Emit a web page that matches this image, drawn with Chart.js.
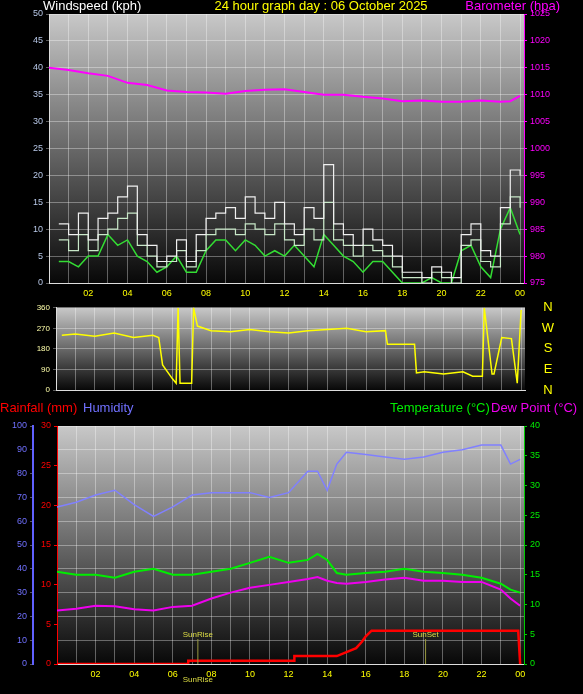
<!DOCTYPE html>
<html>
<head>
<script src="https://cdn.jsdelivr.net/npm/chart.js@4"></script>
<style>
  body { margin: 0; background: #000; width: 583px; height: 694px; position: relative; overflow: hidden; }
  canvas { position: absolute; left: 0; }
</style>
</head>
<body>
<canvas id="wind" style="top:0px" width="583" height="300"></canvas>
<canvas id="dir" style="top:300px" width="583" height="100"></canvas>
<canvas id="temp" style="top:400px" width="583" height="294"></canvas>
<script>
// half-hour steps for wind
const windHours = [];
for (let h = 0.5; h <= 24; h += 0.5) windHours.push(h);
const windGust = [11,9,13,8,12,13,16,18,9,7,4,5,8,4,9,12,13,14,12,16,13,12,15,11,9,14,12,22,11,9,7,10,8,7,5,2,2,1,3,2,1,9,11,6,5,14,21,20];
const windSpeed = [8,6,9,6,9,10,12,13,7,5,3,4,6,3,6,9,10,10,9,11,10,9,11,8,7,10,8,15,8,7,5,7,6,5,3,1,1,0,2,1,0,7,8,4,3,11,16,14];
const windAvg = [4,4,3,5,5,9,7,8,5,4,2,3,5,2,2,6,8,8,6,8,7,5,6,5,7,5,3,9,7,5,4,2,4,4,2,0,0,0,1,0,0,6,7,3,1,10,14,9];

const baroHours = [0,1,2,3,4,5,6,7,8,9,10,11,12,13,14,15,16,17,18,19,20,21,22,23,23.5,24];
const baro = [1015,1014.6,1014,1013.5,1012.2,1011.8,1010.8,1010.5,1010.4,1010.2,1010.7,1010.9,1011,1010.5,1010,1010,1009.6,1009.3,1008.8,1008.9,1008.7,1008.7,1008.9,1008.7,1008.8,1009.8];

const dirHours = [0.3,1,2,3,4,5,5.3,5.5,6,6.2,6.3,6.4,7,7.1,7.3,8,9,10,11,12,13,14,15,16,17,17.1,18,18.5,18.6,19,20,21,21.5,22,22.1,22.5,22.6,23,23.5,23.8,24];
const dirVals = [240,245,235,250,230,240,230,110,50,30,360,30,30,360,280,260,255,265,255,250,260,265,270,255,260,200,200,200,75,80,70,80,60,60,360,70,70,230,225,30,350];

const thHours = [0,1,2,3,4,5,6,7,8,9,10,11,12,13,13.5,14,14.5,15,16,17,18,19,20,21,22,23,23.5,24];
const humidity = [66,68,71,73,67,62,66,71,72,72,72,70,72,81,81,73,84,89,88,87,86,87,89,90,92,92,84,86];
const temperature = [15.5,15,15,14.5,15.5,16,15,15,15.5,16,17,18,17,17.5,18.5,17.5,15.3,15,15.3,15.5,16,15.5,15.3,15,14.5,13.5,12.5,12];
const dewPoint = [9,9.3,9.8,9.7,9.2,9,9.6,9.8,11,12,12.8,13.3,13.8,14.3,14.6,14,13.6,13.5,13.8,14.2,14.5,14,14,13.8,13.8,12.5,11,9.8];

const rainHours = [0,6.8,6.8,12.3,12.3,14.5,15,15.5,15.8,16,16.3,23.9,24];
const rain = [0,0,0.4,0.4,1,1,1.5,2,2.8,3.5,4.2,4.2,0];

const sunRise = 7.3, sunSet = 19.1;

const pts = (xs, ys) => xs.map((x, i) => ({ x, y: ys[i] }));
const gridCol = 'rgba(255,255,255,0.35)';
const tickFont = { size: 9, family: 'Liberation Sans' };

const bgPlugin = {
  id: 'bg',
  beforeDraw(chart) {
    const { ctx, chartArea: a } = chart;
    const g = ctx.createLinearGradient(0, a.top, 0, a.bottom);
    g.addColorStop(0, '#c8c8c8');
    g.addColorStop(1, '#080808');
    ctx.fillStyle = g;
    ctx.fillRect(a.left, a.top, a.right - a.left, a.bottom - a.top);
  }
};

function xScale(showLabels, height) {
  return {
    type: 'linear', min: 0, max: 24.2,
    afterFit: s => { s.height = height; },
    afterBuildTicks: s => {
      s.ticks = [];
      for (let h = 0; h <= 24; h++) s.ticks.push({ value: h });
    },
    grid: { color: gridCol, drawTicks: false },
    border: { color: '#ddd' },
    ticks: {
      autoSkip: false, maxRotation: 0, color: '#ffff00', padding: 5,
      font: tickFont,
      display: showLabels,
      callback: v => (v % 2 === 0 && v > 0) ? String(v % 24).padStart(2, '0') : ''
    }
  };
}

function textPlugin(items) {
  return {
    id: 'texts',
    afterDraw(chart) {
      const ctx = chart.ctx;
      ctx.save();
      ctx.textBaseline = 'top';
      items.forEach(t => {
        ctx.font = '13px "Liberation Sans"';
        ctx.fillStyle = t.color;
        ctx.textAlign = t.align || 'left';
        ctx.fillText(t.text, t.x, t.y);
      });
      ctx.restore();
    }
  };
}

const common = {
  responsive: false, animation: false,
  plugins: { legend: { display: false }, tooltip: { enabled: false } },
  elements: { point: { radius: 0 }, line: { borderWidth: 1.5, tension: 0 } }
};

new Chart(document.getElementById('wind'), {
  type: 'line',
  data: {
    datasets: [
      { data: pts(windHours, windGust), borderColor: '#f0f0f0', borderWidth: 1.2, stepped: true, yAxisID: 'y' },
      { data: pts(windHours, windSpeed), borderColor: '#c8e8c8', borderWidth: 1.2, stepped: true, yAxisID: 'y' },
      { data: pts(windHours, windAvg), borderColor: '#33dd33', yAxisID: 'y' },
      { data: pts(baroHours, baro), borderColor: '#ff00ff', borderWidth: 2, yAxisID: 'baro' }
    ]
  },
  options: {
    ...common,
    layout: { padding: { top: 14 } },
    scales: {
      x: xScale(true, 17),
      y: {
        position: 'left', min: 0, max: 50,
        afterFit: s => { s.width = 49; },
        grid: { color: gridCol, drawTicks: true, tickLength: 3 },
        border: { color: '#ddd' },
        ticks: { stepSize: 5, color: '#b8c8e8', font: tickFont }
      },
      baro: {
        position: 'right', min: 975, max: 1025,
        afterFit: s => { s.width = 59; },
        grid: { drawOnChartArea: false, color: '#ff00ff', tickLength: 3 },
        border: { color: '#ff00ff' },
        ticks: { stepSize: 5, color: '#ff00ff', font: tickFont, callback: v => String(v) }
      }
    }
  },
  plugins: [bgPlugin, textPlugin([
    { text: 'Windspeed (kph)', x: 43, y: 0, color: '#ffffff' },
    { text: '24 hour graph day : 06 October 2025', x: 321, y: 0, color: '#ffff00', align: 'center' },
    { text: 'Barometer (hpa)', x: 560, y: 0, color: '#ff00ff', align: 'right' }
  ])]
});

new Chart(document.getElementById('dir'), {
  type: 'line',
  data: { datasets: [{ data: pts(dirHours, dirVals), borderColor: '#ffff00', yAxisID: 'y' }] },
  options: {
    ...common,
    layout: { padding: { top: 5 } },
    scales: {
      x: xScale(false, 10),
      y: {
        position: 'left', min: 0, max: 360,
        afterFit: s => { s.width = 56; },
        grid: { color: gridCol, tickLength: 3 },
        border: { color: '#ddd' },
        ticks: { stepSize: 90, color: '#ffffaa', font: { size: 8, family: 'Liberation Sans' } }
      },
      r: {
        position: 'right', min: 0, max: 360, afterFit: s => { s.width = 58; },
        grid: { display: false }, border: { display: false }, ticks: { display: false }
      }
    }
  },
  plugins: [bgPlugin, {
    id: 'compass',
    afterDraw(chart) {
      const { ctx, scales: { y } } = chart;
      ctx.save();
      ctx.font = '13px "Liberation Sans"';
      ctx.fillStyle = '#ffff00';
      ctx.textAlign = 'center';
      ctx.textBaseline = 'middle';
      [['N', 360], ['W', 270], ['S', 180], ['E', 90], ['N', 0]].forEach(([t, v]) => {
        ctx.fillText(t, 548, Math.min(y.getPixelForValue(v), 91));
      });
      ctx.restore();
    }
  }]
});

new Chart(document.getElementById('temp'), {
  type: 'line',
  data: {
    datasets: [
      { data: pts(thHours, humidity), borderColor: '#8080ff', yAxisID: 'hum' },
      { data: pts(thHours, temperature), borderColor: '#00ee00', borderWidth: 2, yAxisID: 'temp' },
      { data: pts(thHours, dewPoint), borderColor: '#ee00ee', borderWidth: 2, yAxisID: 'temp' },
      { data: pts(rainHours, rain), borderColor: '#ff0000', borderWidth: 2.5, yAxisID: 'rain' }
    ]
  },
  options: {
    ...common,
    layout: { padding: { top: 26 } },
    scales: {
      x: xScale(true, 30),
      hum: {
        position: 'left', weight: 2, min: 0, max: 100,
        afterFit: s => { s.width = 33; },
        grid: { color: gridCol, tickLength: 3 },
        border: { color: '#6060ff', width: 2 },
        ticks: { stepSize: 10, color: '#7070ff', font: tickFont }
      },
      rain: {
        position: 'left', weight: 1, min: 0, max: 30,
        afterFit: s => { s.width = 24; },
        grid: { drawOnChartArea: false, color: '#ff0000', tickLength: 3 },
        border: { color: '#ff0000' },
        ticks: { stepSize: 5, color: '#ff0000', font: tickFont }
      },
      temp: {
        position: 'right', min: 0, max: 40,
        afterFit: s => { s.width = 59; },
        grid: { drawOnChartArea: false, color: '#00cc00', tickLength: 3 },
        border: { color: '#00cc00' },
        ticks: { stepSize: 5, color: '#00ee00', font: tickFont }
      }
    }
  },
  plugins: [bgPlugin, {
    id: 'sun',
    afterDraw(chart) {
      const { ctx, chartArea: a, scales: { x } } = chart;
      ctx.save();
      ctx.strokeStyle = '#9a9a40';
      ctx.fillStyle = '#dddd44';
      ctx.font = '8px "Liberation Sans"';
      ctx.textAlign = 'center';
      [['SunRise', sunRise], ['SunSet', sunSet]].forEach(([t, h]) => {
        const px = x.getPixelForValue(h);
        ctx.beginPath();
        ctx.moveTo(px, a.bottom - 25);
        ctx.lineTo(px, a.bottom);
        ctx.stroke();
        ctx.fillText(t, px, a.bottom - 27);
      });
      ctx.fillText('SunRise', x.getPixelForValue(sunRise), a.bottom + 18);
      ctx.restore();
    }
  }, textPlugin([
    { text: 'Rainfall (mm)', x: 0, y: 2, color: '#ff0000' },
    { text: 'Humidity', x: 83, y: 2, color: '#7070ff' },
    { text: 'Temperature (°C)', x: 390, y: 2, color: '#00ee00' },
    { text: 'Dew Point (°C)', x: 491, y: 2, color: '#ee00ee' }
  ])]
});
</script>
</body>
</html>
